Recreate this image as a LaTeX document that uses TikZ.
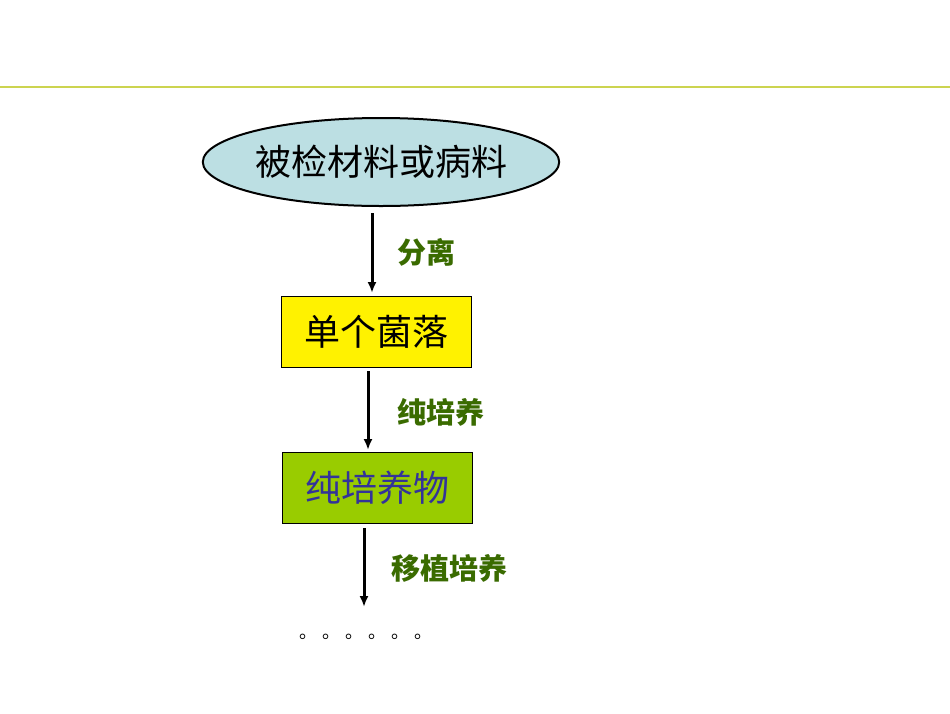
\documentclass[tikz,border=0pt]{standalone}
\usepackage{fontspec}
\newfontfamily\cjk{Noto Sans CJK SC}
\usetikzlibrary{shapes.geometric,arrows.meta}
\definecolor{lbl}{HTML}{3A6B00}
\definecolor{ellfill}{HTML}{BCDFE3}
\definecolor{grn}{HTML}{99CC00}
\definecolor{txtblue}{HTML}{333399}
\definecolor{topline}{HTML}{CCD450}
\tikzset{
  boxnode/.style={draw=black, thin, minimum width=190pt, minimum height=71pt, inner sep=0pt, font=\cjk\fontsize{36}{40}\selectfont},
  lblnode/.style={text=lbl, font=\cjk\bfseries\fontsize{29}{32}\selectfont, anchor=west},
  flow/.style={-{Latex[length=11pt,width=9pt]}, line width=3pt}
}
\begin{document}
\begin{tikzpicture}[x=1pt,y=-1pt]
\useasboundingbox (0,0) rectangle (950,713);
\fill[white] (0,0) rectangle (950,713);
\draw[topline, line width=1.2pt] (0,87) -- (950,87);
\node[ellipse, draw=black, line width=2pt, fill=ellfill, minimum width=302pt, minimum height=88pt, inner sep=0pt, font=\cjk\fontsize{36}{40}\selectfont] (src) at (381,162) {被检材料或病料};
\node[boxnode, fill=yellow] (col) at (376,331.5) {单个菌落};
\node[boxnode, fill=grn, text=txtblue] (pure) at (377,488) {纯培养物};
\coordinate (a1s) at (372,213); \coordinate (a1e) at (372,293);
\coordinate (a2s) at (368,371); \coordinate (a2e) at (368,450);
\coordinate (a3s) at (364,528); \coordinate (a3e) at (364,607);
\draw[flow] (a1s) -- (a1e);
\draw[flow] (a2s) -- (a2e);
\draw[flow] (a3s) -- (a3e);
\node[lblnode] (l1) at (394,252) {分离};
\node[lblnode] (l2) at (394,412) {纯培养};
\node[lblnode] (l3) at (388,568) {移植培养};
\node[font=\cjk\fontsize{18}{20}\selectfont, anchor=west] (dots) at (296,637) {。\hspace{5pt}。\hspace{5pt}。\hspace{5pt}。\hspace{5pt}。\hspace{5pt}。};
\end{tikzpicture}
\end{document}
